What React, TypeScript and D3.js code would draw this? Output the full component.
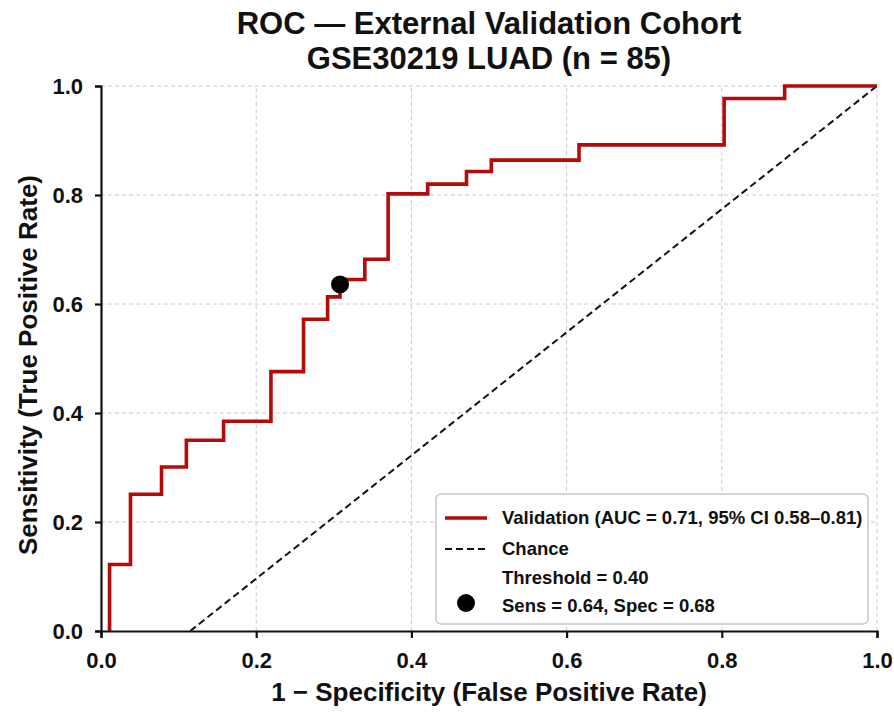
import React, { useRef, useEffect } from "react";
import * as d3 from "d3";

// ROC curve vertices (step corners)
const fpr = [0.011, 0.011, 0.038, 0.078, 0.110, 0.158, 0.219, 0.261, 0.292, 0.308, 0.340, 0.370, 0.421, 0.471, 0.503, 0.616, 0.803, 0.881, 1.0];
const tpr = [0.0, 0.122, 0.251, 0.301, 0.350, 0.385, 0.476, 0.572, 0.613, 0.645, 0.682, 0.802, 0.820, 0.843, 0.864, 0.892, 0.977, 1.0, 1.0];

// chance line as drawn
const chanceX = [0.115, 1.0];
const chanceY = [0.0, 1.0];

// operating point
const thrPoint = { fpr: 0.308, tpr: 0.636 };

const ticks = [0, 0.2, 0.4, 0.6, 0.8, 1.0];
const legendLabels = [
  "Validation (AUC = 0.71, 95% CI 0.58\u20130.81)",
  "Chance",
  "Threshold = 0.40",
  "Sens = 0.64, Spec = 0.68",
];

const W = 894;
const H = 713;
const FONT = "'Liberation Sans', Arial, sans-serif";
const RED = "#b40a0a";

const App = () => {
  const ref = useRef<SVGSVGElement>(null);

  useEffect(() => {
    const svg = d3.select(ref.current);
    svg.selectAll("*").remove();

    const margin = { left: 101, right: 17, top: 86, bottom: 82 };
    const x = d3.scaleLinear().domain([0, 1]).range([margin.left, W - margin.right]);
    const y = d3.scaleLinear().domain([0, 1]).range([H - margin.bottom, margin.top]);

    // grid
    const grid = svg.append("g");
    grid.selectAll("line.vx")
      .data(ticks.slice(1))
      .enter()
      .append("line")
      .attr("x1", d => x(d)).attr("x2", d => x(d))
      .attr("y1", y(0)).attr("y2", y(1))
      .attr("stroke", "#cccccc").attr("stroke-width", 1).attr("stroke-dasharray", "4,3");
    grid.selectAll("line.hy")
      .data(ticks.slice(1))
      .enter()
      .append("line")
      .attr("y1", d => y(d)).attr("y2", d => y(d))
      .attr("x1", x(0)).attr("x2", x(1))
      .attr("stroke", "#cccccc").attr("stroke-width", 1).attr("stroke-dasharray", "4,3");

    // chance line
    const chance = chanceX.map((v, i) => [v, chanceY[i]] as [number, number]);
    svg.append("path")
      .attr("d", d3.line().x(d => x(d[0])).y(d => y(d[1]))(chance))
      .attr("fill", "none").attr("stroke", "#111").attr("stroke-width", 2)
      .attr("stroke-dasharray", "7,4");

    // ROC curve
    const roc = fpr.map((v, i) => [v, tpr[i]] as [number, number]);
    svg.append("path")
      .attr("d", d3.line().x(d => x(d[0])).y(d => y(d[1])).curve(d3.curveStepAfter)(roc))
      .attr("fill", "none").attr("stroke", RED).attr("stroke-width", 3.6);

    // operating point
    svg.append("circle")
      .attr("cx", x(thrPoint.fpr)).attr("cy", y(thrPoint.tpr)).attr("r", 9)
      .attr("fill", "#000");

    // axes
    const xAxis = svg.append("g")
      .attr("transform", `translate(0,${y(0)})`)
      .call(d3.axisBottom(x).tickValues(ticks).tickFormat(d3.format(".1f")).tickSize(7).tickPadding(14));
    const yAxis = svg.append("g")
      .attr("transform", `translate(${x(0)},0)`)
      .call(d3.axisLeft(y).tickValues(ticks).tickFormat(d3.format(".1f")).tickSize(6).tickPadding(12));
    [xAxis, yAxis].forEach(a => {
      a.select(".domain").attr("stroke", "#111").attr("stroke-width", 2.2);
      a.selectAll(".tick line").attr("stroke", "#111").attr("stroke-width", 2.2);
      a.selectAll(".tick text")
        .attr("fill", "#111")
        .style("font-family", FONT).style("font-weight", "bold").style("font-size", "22px");
    });

    // titles
    svg.append("text")
      .attr("x", x(0.5)).attr("y", 34)
      .attr("text-anchor", "middle")
      .style("font-family", FONT).style("font-weight", "bold").style("font-size", "31px")
      .attr("fill", "#111")
      .text("ROC \u2014 External Validation Cohort");
    svg.append("text")
      .attr("x", x(0.5)).attr("y", 69)
      .attr("text-anchor", "middle")
      .style("font-family", FONT).style("font-weight", "bold").style("font-size", "31px")
      .attr("fill", "#111")
      .text("GSE30219 LUAD (n = 85)");

    svg.append("text")
      .attr("x", x(0.5)).attr("y", 701)
      .attr("text-anchor", "middle")
      .style("font-family", FONT).style("font-weight", "bold").style("font-size", "26px")
      .attr("fill", "#111")
      .text("1 \u2212 Specificity (False Positive Rate)");
    svg.append("text")
      .attr("transform", `translate(37,365) rotate(-90)`)
      .attr("text-anchor", "middle")
      .style("font-family", FONT).style("font-weight", "bold").style("font-size", "26px")
      .attr("fill", "#111")
      .text("Sensitivity (True Positive Rate)");

    // legend
    const lg = svg.append("g").attr("transform", "translate(436,494)");
    lg.append("rect")
      .attr("width", 432).attr("height", 130).attr("rx", 5)
      .attr("fill", "#fff").attr("fill-opacity", 0.9)
      .attr("stroke", "#c8c8c8").attr("stroke-width", 1.5);
    const rowY = [24, 55, 84, 112];
    lg.append("line").attr("x1", 9).attr("x2", 51).attr("y1", rowY[0]).attr("y2", rowY[0])
      .attr("stroke", RED).attr("stroke-width", 3.6);
    lg.append("line").attr("x1", 9).attr("x2", 51).attr("y1", rowY[1]).attr("y2", rowY[1])
      .attr("stroke", "#111").attr("stroke-width", 2).attr("stroke-dasharray", "7,4");
    lg.append("circle").attr("cx", 30).attr("cy", 109).attr("r", 9).attr("fill", "#000");
    lg.selectAll("text.lab")
      .data(legendLabels)
      .enter()
      .append("text")
      .attr("x", 66)
      .attr("y", (d, i) => rowY[i])
      .attr("dy", "0.35em")
      .style("font-family", FONT).style("font-weight", "bold").style("font-size", "18.5px")
      .attr("fill", "#111")
      .text(d => d);
  }, []);

  return (
    <svg ref={ref} width={W} height={H}
      style={{ position: "absolute", left: 0, top: 0, background: "#fff" }} />
  );
};

export default App;
